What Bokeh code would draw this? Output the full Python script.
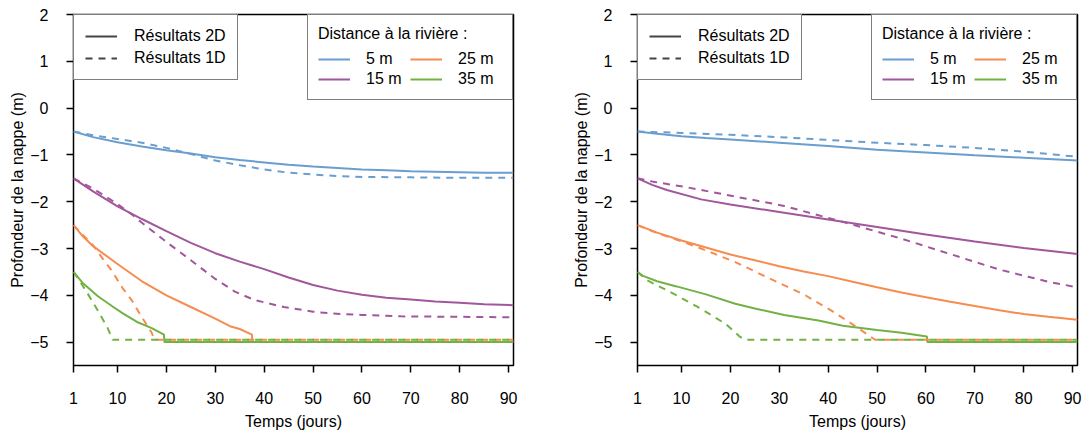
from bokeh.plotting import figure
from bokeh.layouts import row
from bokeh.models import Legend, LegendItem, Range1d, FixedTicker
from bokeh.embed import file_html
from bokeh.resources import INLINE

FONT = "Liberation Sans"
BLUE, PURPLE, ORANGE, GREEN = "#6A9ECF", "#A2579D", "#F68C4F", "#72B245"

x_ticks = [1, 10, 20, 30, 40, 50, 60, 70, 80, 90]
y_ticks = [-5, -4, -3, -2, -1, 0, 1, 2]
distance_labels = ["5 m", "15 m", "25 m", "35 m"]
type_labels = ["Résultats 2D", "Résultats 1D"]
legend_title = "Distance à la rivière :"
x_title = "Temps (jours)"
y_title = "Profondeur de la nappe (m)"

# ---------- left panel ----------
a_days_5_2d = [1, 5, 10, 15, 20, 25, 30, 35, 40, 45, 50, 55, 60, 65, 70, 75, 80, 85, 91]
a_5_2d = [-0.5, -0.62, -0.73, -0.82, -0.9, -0.97, -1.05, -1.11, -1.16, -1.21, -1.25, -1.28, -1.31, -1.33, -1.35, -1.36, -1.37, -1.38, -1.38]
a_days_5_1d = [1, 5, 10, 15, 20, 25, 30, 35, 40, 45, 50, 55, 60, 70, 80, 91]
a_5_1d = [-0.5, -0.58, -0.66, -0.74, -0.85, -0.98, -1.12, -1.22, -1.31, -1.38, -1.42, -1.45, -1.47, -1.48, -1.49, -1.49]

a_days_15_2d = [1, 5, 10, 15, 20, 25, 30, 35, 40, 45, 50, 55, 60, 65, 70, 75, 80, 85, 91]
a_15_2d = [-1.5, -1.78, -2.1, -2.37, -2.63, -2.88, -3.1, -3.28, -3.44, -3.62, -3.78, -3.9, -3.99, -4.05, -4.09, -4.13, -4.16, -4.19, -4.21]
a_days_15_1d = [1, 5, 10, 13, 15, 20, 25, 30, 34, 38, 44, 50, 54, 60, 68, 80, 91]
a_15_1d = [-1.5, -1.72, -2.05, -2.28, -2.45, -2.86, -3.25, -3.65, -3.92, -4.1, -4.25, -4.35, -4.39, -4.42, -4.45, -4.46, -4.47]

a_days_25_2d = [1, 3, 5, 10, 15, 20, 25, 30, 33, 35, 37.5, 37.6, 91]
a_25_2d = [-2.5, -2.75, -2.95, -3.33, -3.7, -4.0, -4.25, -4.5, -4.66, -4.72, -4.84, -5.0, -5.0]
a_days_25_1d = [1, 3, 5, 7, 9, 11, 13, 15, 17, 17.5, 91]
a_25_1d = [-2.5, -2.72, -2.93, -3.22, -3.5, -3.84, -4.12, -4.47, -4.8, -4.95, -4.95]

a_days_35_2d = [1, 3, 6, 9, 11, 14, 17, 19.5, 19.6, 91]
a_35_2d = [-3.5, -3.75, -4.02, -4.24, -4.38, -4.57, -4.7, -4.84, -5.0, -5.0]
a_days_35_1d = [1, 2, 4, 6, 8, 9, 91]
a_35_1d = [-3.5, -3.65, -3.98, -4.33, -4.7, -4.95, -4.95]

# ---------- right panel ----------
b_days_5_2d = [1, 5, 10, 15, 20, 30, 40, 50, 60, 70, 80, 91]
b_5_2d = [-0.5, -0.55, -0.6, -0.64, -0.67, -0.74, -0.81, -0.89, -0.95, -1.01, -1.06, -1.12]
b_days_5_1d = [1, 10, 20, 30, 40, 50, 60, 70, 80, 91]
b_5_1d = [-0.5, -0.53, -0.57, -0.62, -0.68, -0.74, -0.79, -0.85, -0.93, -1.04]

b_days_15_2d = [1, 4, 7, 14, 20, 30, 40, 50, 60, 70, 80, 91]
b_15_2d = [-1.5, -1.64, -1.75, -1.95, -2.06, -2.22, -2.38, -2.54, -2.7, -2.85, -2.99, -3.12]
b_days_15_1d = [1, 4, 11, 21, 31, 38, 45, 55, 65, 75, 85, 91]
b_15_1d = [-1.5, -1.57, -1.69, -1.89, -2.09, -2.29, -2.49, -2.79, -3.12, -3.45, -3.71, -3.83]

b_days_25_2d = [1, 5, 10, 15, 20, 25, 30, 35, 40, 45, 50, 55, 60, 65, 70, 75, 80, 85, 91]
b_25_2d = [-2.5, -2.66, -2.83, -2.98, -3.13, -3.25, -3.38, -3.49, -3.59, -3.71, -3.83, -3.94, -4.04, -4.14, -4.23, -4.32, -4.4, -4.46, -4.52]
b_days_25_1d = [1, 5, 10, 14, 21, 28, 35, 41, 45, 49.6, 91]
b_25_1d = [-2.5, -2.67, -2.85, -3.0, -3.29, -3.64, -3.98, -4.35, -4.62, -4.95, -4.95]

b_days_35_2d = [1, 2, 5, 9, 15, 21, 25, 31, 38, 43, 50, 55, 60.2, 60.3, 91]
b_35_2d = [-3.5, -3.58, -3.7, -3.81, -3.98, -4.18, -4.28, -4.42, -4.54, -4.65, -4.74, -4.8, -4.88, -5.0, -5.0]
b_days_35_1d = [1, 3, 9, 14, 19, 22, 23, 91]
b_35_1d = [-3.5, -3.68, -4.0, -4.29, -4.61, -4.89, -4.95, -4.95]

COLORS = [BLUE, PURPLE, ORANGE, GREEN]
DASH = "7 6"
LW = 2


def minus(v):
    return str(v).replace("-", "\u2212")


def make_panel(series_2d, series_1d, width, border_left, border_right):
    p = figure(width=width, height=434, x_range=Range1d(1, 91), y_range=Range1d(-5.5, 2),
               output_backend="svg", toolbar_location=None,
               min_border_left=border_left, min_border_right=border_right,
               min_border_top=14, min_border_bottom=69)
    p.xgrid.visible = False
    p.ygrid.visible = False
    p.outline_line_color = "black"
    p.outline_line_width = 1.5
    p.background_fill_color = "white"

    for ax, ticks in ((p.xaxis, x_ticks), (p.yaxis, y_ticks)):
        ax.ticker = FixedTicker(ticks=ticks)
        ax.major_label_overrides = {t: minus(t) for t in ticks}
        ax.axis_line_color = None
        ax.major_tick_out = 7
        ax.major_tick_in = 0
        ax.major_tick_line_color = "black"
        ax.major_tick_line_width = 1.5
        ax.minor_tick_line_color = None
        ax.major_label_text_font = FONT
        ax.major_label_text_font_size = "16px"
        ax.major_label_text_color = "black"
        ax.axis_label_text_font = FONT
        ax.axis_label_text_font_size = "16px"
        ax.axis_label_text_font_style = "normal"
        ax.axis_label_text_color = "black"
    p.xaxis.axis_label = x_title
    p.yaxis.axis_label = y_title
    p.xaxis.major_label_standoff = 19
    p.xaxis.axis_label_standoff = 6
    p.yaxis.major_label_standoff = 18
    p.yaxis.axis_label_standoff = 1

    solid_renderers = []
    for (d, v), c in zip(series_2d, COLORS):
        r = p.line(d, v, line_color=c, line_width=LW)
        solid_renderers.append(r)
    for (d, v), c in zip(series_1d, COLORS):
        p.line(d, v, line_color=c, line_width=LW, line_dash=DASH)

    # hidden renderers that only provide the line-type legend samples
    d0, v0 = series_2d[0]
    d1, v1 = series_1d[0]
    r2d = p.line(d0, v0, line_color="#444444", line_width=LW, visible=False)
    r1d = p.line(d1, v1, line_color="#444444", line_width=LW, line_dash=DASH, visible=False)

    leg1 = Legend(items=[LegendItem(label=type_labels[0], renderers=[r2d]),
                         LegendItem(label=type_labels[1], renderers=[r1d])],
                  location="top_left", margin=0, padding=11, spacing=2,
                  glyph_width=32, glyph_height=20, label_height=20, label_standoff=17,
                  border_line_color="black", border_line_width=1.5,
                  background_fill_color="white", background_fill_alpha=1.0,
                  inactive_fill_alpha=0.0,
                  label_text_font=FONT, label_text_font_size="16px", label_text_color="black")
    p.add_layout(leg1)

    leg2 = Legend(items=[LegendItem(label=lab, renderers=[r]) for lab, r in zip(distance_labels, solid_renderers)],
                  title=legend_title, location="top_right", ncols=2, orientation="vertical",
                  margin=0, padding=10, spacing=0, title_standoff=6,
                  glyph_width=32, glyph_height=20, label_height=20, label_width=44, label_standoff=16,
                  border_line_color="black", border_line_width=1.5,
                  background_fill_color="white", background_fill_alpha=1.0,
                  label_text_font=FONT, label_text_font_size="16px", label_text_color="black",
                  title_text_font=FONT, title_text_font_size="16px", title_text_font_style="normal",
                  title_text_color="black", title_text_align="center")
    p.add_layout(leg2)
    return p


left = make_panel(
    [(a_days_5_2d, a_5_2d), (a_days_15_2d, a_15_2d), (a_days_25_2d, a_25_2d), (a_days_35_2d, a_35_2d)],
    [(a_days_5_1d, a_5_1d), (a_days_15_1d, a_15_1d), (a_days_25_1d, a_25_1d), (a_days_35_1d, a_35_1d)],
    560, 73, 47)
right = make_panel(
    [(b_days_5_2d, b_5_2d), (b_days_15_2d, b_15_2d), (b_days_25_2d, b_25_2d), (b_days_35_2d, b_35_2d)],
    [(b_days_5_1d, b_5_1d), (b_days_15_1d, b_15_1d), (b_days_25_1d, b_25_1d), (b_days_35_1d, b_35_1d)],
    523, 77, 6)

layout = row(left, right)
open("out.html", "w").write(file_html(layout, INLINE))
